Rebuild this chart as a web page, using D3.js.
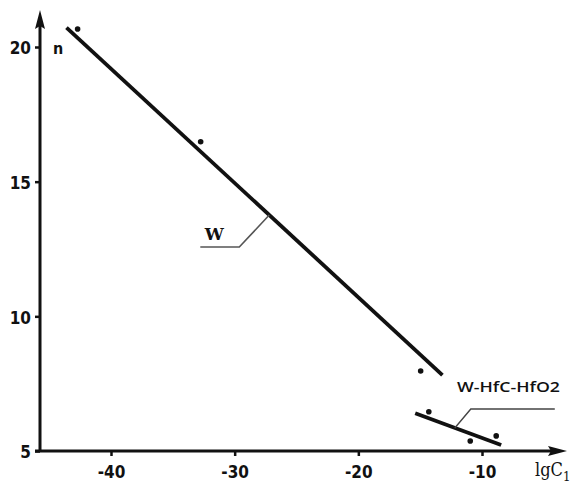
<!DOCTYPE html>
<html>
<head>
<meta charset="utf-8">
<script src="https://cdn.jsdelivr.net/npm/d3@7"></script>
<style>
  html, body { margin: 0; padding: 0; background: #fff; }
  svg { display: block; }
  .tick text { font-family: "Liberation Sans Narrow", "DejaVu Sans Condensed", sans-serif; font-weight: bold; font-stretch: condensed; }
</style>
</head>
<body>
<svg id="chart" width="582" height="484"></svg>
<script>
// ---- data ----
const xTicks = [-40, -30, -20, -10];
const yTicks = [5, 10, 15, 20];
const wPoints = [[-42.7, 20.67], [-32.75, 16.48], [-14.96, 7.97]];
const wLine = [[-43.6, 20.72], [-13.2, 7.82]];
const hfPoints = [[-14.3, 6.46], [-10.95, 5.37], [-8.85, 5.56]];
const hfLine = [[-15.4, 6.40], [-8.45, 5.22]];
const seriesLabels = ["W", "W-HfC-HfO2"];
const labelAnchors = [-27.2, -12.2];

const svg = d3.select("#chart");
const x = d3.scaleLinear().domain([-40, -10]).range([111, 482]);
const y = d3.scaleLinear().domain([5, 20]).range([451, 47]);

const axisY = y(5);
const axisX = 40;

// x axis ticks and labels
const gx = svg.append("g").attr("transform", `translate(0,${axisY})`)
  .call(d3.axisBottom(x).tickValues(xTicks).tickSize(5).tickSizeOuter(0).tickFormat(d3.format("d")));
gx.select(".domain").remove();
gx.selectAll(".tick line").attr("stroke", "#111").attr("stroke-width", 2.5);
gx.selectAll(".tick text").attr("font-size", 17).attr("dy", "1.1em").attr("fill", "#111")
  .text(d => "-" + Math.abs(d));

// y axis ticks and labels
const gy = svg.append("g").attr("transform", `translate(${axisX},0)`)
  .call(d3.axisLeft(y).tickValues(yTicks).tickSize(5).tickSizeOuter(0).tickFormat(d3.format("d")));
gy.select(".domain").remove();
gy.selectAll(".tick line").attr("stroke", "#111").attr("stroke-width", 2.5);
gy.selectAll(".tick text").attr("font-size", 17).attr("x", -9).attr("dy", "0.4em").attr("fill", "#111");

// axis lines with arrows
svg.append("line").attr("x1", 35).attr("x2", 556).attr("y1", axisY).attr("y2", axisY)
  .attr("stroke", "#111").attr("stroke-width", 3);
svg.append("path").attr("d", `M567,${axisY} L548,${axisY - 5} L551,${axisY} L548,${axisY + 5} Z`).attr("fill", "#111");
svg.append("line").attr("x1", axisX).attr("x2", axisX).attr("y1", axisY + 1).attr("y2", 24)
  .attr("stroke", "#111").attr("stroke-width", 3);
svg.append("path").attr("d", `M${axisX},10 L${axisX - 5},29 L${axisX},26 L${axisX + 5},29 Z`).attr("fill", "#111");

// axis titles
svg.append("text").attr("x", 53).attr("y", 54).attr("font-family", "DejaVu Sans Condensed, sans-serif")
  .attr("font-weight", "bold").attr("font-size", 16).attr("fill", "#111").text("n");
const xt = svg.append("text").attr("x", 535).attr("y", 476)
  .attr("font-family", "DejaVu Serif Condensed, DejaVu Serif, serif").attr("font-size", 18).attr("fill", "#111");
xt.append("tspan").text("lgC");
xt.append("tspan").attr("font-size", 13).attr("dy", 5).text("1");

// regression lines
const line = d3.line().x(d => x(d[0])).y(d => y(d[1]));
svg.append("path").attr("d", line(wLine)).attr("stroke", "#111").attr("stroke-width", 3.8).attr("fill", "none");
svg.append("path").attr("d", line(hfLine)).attr("stroke", "#111").attr("stroke-width", 3.8).attr("fill", "none");

// points
svg.selectAll(".pw").data(wPoints.concat(hfPoints)).enter().append("circle")
  .attr("cx", d => x(d[0])).attr("cy", d => y(d[1])).attr("r", 2.8).attr("fill", "#111");

// label leaders
function onLine(ln, xv) {
  const t = (xv - ln[0][0]) / (ln[1][0] - ln[0][0]);
  return [xv, ln[0][1] + t * (ln[1][1] - ln[0][1])];
}
const aW = onLine(wLine, labelAnchors[0]);
const pW = [x(aW[0]), y(aW[1])];
svg.append("path").attr("d", `M${pW[0]},${pW[1]} L${pW[0] - 30},${pW[1] + 32} L${pW[0] - 69},${pW[1] + 32}`)
  .attr("stroke", "#555").attr("stroke-width", 1.6).attr("fill", "none");
svg.append("text").attr("x", pW[0] - 55).attr("y", pW[1] + 25)
  .attr("font-family", "DejaVu Serif, serif").attr("font-weight", "bold").attr("font-size", 17)
  .attr("fill", "#111").attr("text-anchor", "middle").text(seriesLabels[0]);

const aH = onLine(hfLine, labelAnchors[1]);
const pH = [x(aH[0]), y(aH[1])];
svg.append("path").attr("d", `M${pH[0]},${pH[1]} L${pH[0] + 16},${pH[1] - 19} L${pH[0] + 100},${pH[1] - 19}`)
  .attr("stroke", "#444").attr("stroke-width", 1.4).attr("fill", "none");
svg.append("text").attr("x", 457).attr("y", 392)
  .attr("font-family", "Open Sans, sans-serif").attr("font-weight", 600).attr("font-size", 15)
  .attr("textLength", 103).attr("lengthAdjust", "spacingAndGlyphs")
  .attr("fill", "#111").text(seriesLabels[1]);
</script>
</body>
</html>
